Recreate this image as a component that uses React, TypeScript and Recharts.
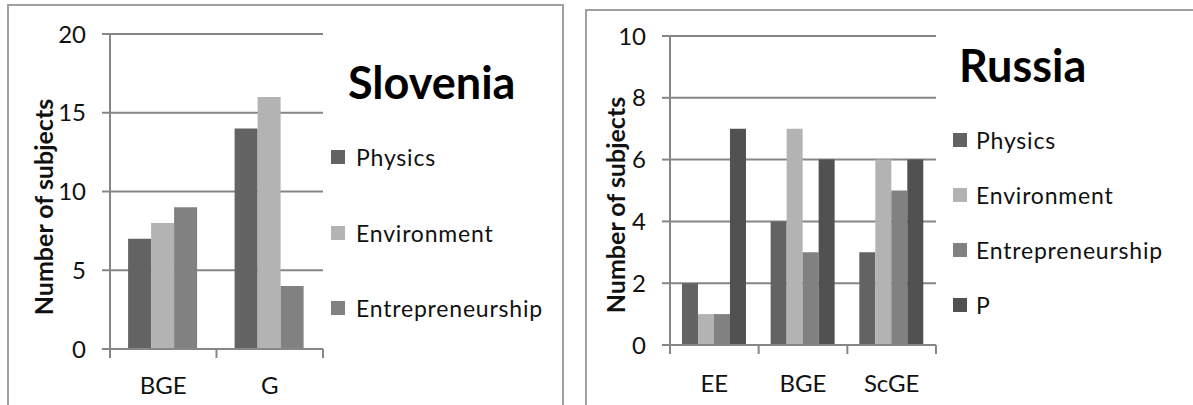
import React from 'react';
import { BarChart, Bar, XAxis, YAxis, CartesianGrid, Legend } from 'recharts';

const sloveniaCategories = ['BGE', 'G'];
const sloveniaPhysics = [7, 14];
const sloveniaEnvironment = [8, 16];
const sloveniaEntrepreneurship = [9, 4];
const sloveniaTicks = [0, 5, 10, 15, 20];

const russiaCategories = ['EE', 'BGE', 'ScGE'];
const russiaPhysics = [2, 4, 3];
const russiaEnvironment = [1, 7, 6];
const russiaEntrepreneurship = [1, 3, 5];
const russiaP = [7, 6, 6];
const russiaTicks = [0, 2, 4, 6, 8, 10];

const sloveniaData = sloveniaCategories.map((name, i) => ({
  name,
  Physics: sloveniaPhysics[i],
  Environment: sloveniaEnvironment[i],
  Entrepreneurship: sloveniaEntrepreneurship[i],
}));

const russiaData = russiaCategories.map((name, i) => ({
  name,
  Physics: russiaPhysics[i],
  Environment: russiaEnvironment[i],
  Entrepreneurship: russiaEntrepreneurship[i],
  P: russiaP[i],
}));

const FONT = "Lato, 'Open Sans', sans-serif";
const AXIS = '#868686';
const TEXT = '#111';
const colors = {
  Physics: '#636363',
  Environment: '#b3b3b3',
  Entrepreneurship: '#818181',
  P: '#515151',
};

const tickStyle = { fill: TEXT, fontSize: 24, fontFamily: FONT };

const LegendList = ({ payload, gap, textGap }: any) => (
  <div style={{ display: 'flex', flexDirection: 'column', gap, fontFamily: FONT }}>
    {(payload || []).map((p: any) => (
      <div key={p.value} style={{ display: 'flex', alignItems: 'center', height: 26 }}>
        <span style={{ width: 14, height: 14, background: p.color, marginRight: textGap }} />
        <span style={{ fontSize: 23, color: TEXT, letterSpacing: 0.8 }}>{p.value}</span>
      </div>
    ))}
  </div>
);

const yLabel = (cx: number, cy: number) => () => (
  <text
    x={cx}
    y={cy}
    transform={`rotate(-90, ${cx}, ${cy})`}
    textAnchor="middle"
    dominantBaseline="central"
    fontFamily={FONT}
    fontWeight="bold"
    fontSize={25}
    fill={TEXT}
  >
    Number of subjects
  </text>
);

// category label plus tick marks on the band edges (spreadsheet style)
const makeCategoryTick = (count: number, labelDy: number) => (props: any) => {
  const { x, y, payload, index } = props;
  const half = payload?.offset ?? 0;
  return (
    <g>
      <line x1={x - half} x2={x - half} y1={y} y2={y + 9} stroke={AXIS} strokeWidth={2} />
      {index === count - 1 && (
        <line x1={x + half} x2={x + half} y1={y} y2={y + 9} stroke={AXIS} strokeWidth={2} />
      )}
      <text x={x} y={y + labelDy} textAnchor="middle" fill={TEXT} fontSize={24} fontFamily={FONT}>
        {payload.value}
      </text>
    </g>
  );
};

export default function App() {
  return (
    <div
      style={{
        position: 'absolute',
        left: 0,
        top: 0,
        width: 1193,
        height: 405,
        overflow: 'hidden',
        background: '#fff',
      }}
    >
      <div
        style={{
          position: 'absolute',
          left: 7,
          top: 4,
          width: 553,
          height: 420,
          border: '2px solid #a0a0a0',
        }}
      />
      <div
        style={{
          position: 'absolute',
          left: 585,
          top: 9,
          width: 640,
          height: 420,
          border: '2px solid #a0a0a0',
        }}
      />

      <div style={{ position: 'absolute', left: 0, top: 0 }}>
        <BarChart
          width={565}
          height={405}
          data={sloveniaData}
          margin={{ top: 34, right: 242, bottom: 0, left: 0 }}
          barCategoryGap="17%"
          barGap={0}
        >
          <CartesianGrid horizontal vertical={false} stroke={AXIS} strokeWidth={2} />
          <XAxis
            dataKey="name"
            height={56}
            interval={0}
            axisLine={{ stroke: AXIS, strokeWidth: 2 }}
            tickLine={false}
            tickSize={0}
            tickMargin={0}
            tick={makeCategoryTick(sloveniaCategories.length, 45)}
          />
          <YAxis
            width={110}
            domain={[0, 20]}
            ticks={sloveniaTicks}
            axisLine={{ stroke: AXIS, strokeWidth: 2 }}
            tickLine={{ stroke: AXIS, strokeWidth: 2 }}
            tickSize={8}
            tickMargin={16}
            tick={tickStyle}
            label={{ content: yLabel(43, 207) }}
          />
          <Legend
            layout="horizontal"
            verticalAlign="middle"
            align="center"
            itemSorter={null as any}
            wrapperStyle={{ left: 331, top: 144, width: 230 }}
            content={(props: any) => <LegendList payload={props.payload} gap={49.5} textGap={11} />}
          />
          <Bar dataKey="Physics" fill={colors.Physics} isAnimationActive={false} />
          <Bar dataKey="Environment" fill={colors.Environment} isAnimationActive={false} />
          <Bar dataKey="Entrepreneurship" fill={colors.Entrepreneurship} isAnimationActive={false} />
        </BarChart>
      </div>
      <div
        style={{
          position: 'absolute',
          left: 348,
          top: 60,
          fontFamily: FONT,
          fontWeight: 'bold',
          fontSize: 45,
          lineHeight: 1,
          color: '#000',
        }}
      >
        Slovenia
      </div>

      <div style={{ position: 'absolute', left: 586, top: 0 }}>
        <BarChart
          width={607}
          height={405}
          data={russiaData}
          margin={{ top: 36, right: 257, bottom: 0, left: 0 }}
          barCategoryGap="13.5%"
          barGap={0}
        >
          <CartesianGrid horizontal vertical={false} stroke={AXIS} strokeWidth={2} />
          <XAxis
            dataKey="name"
            height={60}
            interval={0}
            axisLine={{ stroke: AXIS, strokeWidth: 2 }}
            tickLine={false}
            tickSize={0}
            tickMargin={0}
            tick={makeCategoryTick(russiaCategories.length, 47)}
          />
          <YAxis
            width={84}
            domain={[0, 10]}
            ticks={russiaTicks}
            axisLine={{ stroke: AXIS, strokeWidth: 2 }}
            tickLine={{ stroke: AXIS, strokeWidth: 2 }}
            tickSize={8}
            tickMargin={16}
            tick={tickStyle}
            label={{ content: yLabel(29, 205) }}
          />
          <Legend
            layout="horizontal"
            verticalAlign="middle"
            align="center"
            itemSorter={null as any}
            wrapperStyle={{ left: 367, top: 127, width: 235 }}
            content={(props: any) => <LegendList payload={props.payload} gap={29} textGap={9} />}
          />
          <Bar dataKey="Physics" fill={colors.Physics} isAnimationActive={false} />
          <Bar dataKey="Environment" fill={colors.Environment} isAnimationActive={false} />
          <Bar dataKey="Entrepreneurship" fill={colors.Entrepreneurship} isAnimationActive={false} />
          <Bar dataKey="P" fill={colors.P} isAnimationActive={false} />
        </BarChart>
      </div>
      <div
        style={{
          position: 'absolute',
          left: 959,
          top: 43,
          fontFamily: FONT,
          fontWeight: 'bold',
          fontSize: 45,
          lineHeight: 1,
          color: '#000',
        }}
      >
        Russia
      </div>
    </div>
  );
}
